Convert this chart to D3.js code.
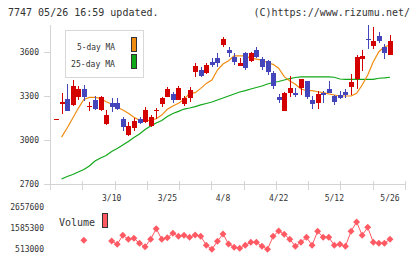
<!DOCTYPE html>
<html>
<head>
<meta charset="utf-8">
<script src="https://cdn.jsdelivr.net/npm/d3@7"></script>
<style>
  body { margin: 0; background: #fff; }
  svg { display: block; font-family: "DejaVu Sans Mono", "Liberation Mono", monospace; }
</style>
</head>
<body>
<svg id="chart"></svg>
<script>
// daily candles, 61 trading days ending 5/26
const opens  = [3143,3245,3280,3239,3293,3348,3232,3273,3205,3109,3252,3252,3143,3034,3082,3143,3123,3095,3205,3245,3293,3314,3273,3245,3286,3464,3477,3457,3532,3559,3648,3614,3566,3505,3593,3539,3614,3552,3539,3459,3291,3200,3322,3320,3350,3402,3273,3254,3320,3348,3300,3307,3327,3364,3414,3554,3689,3643,3709,3632,3582];
const highs  = [3143,3320,3382,3409,3368,3375,3259,3300,3300,3205,3286,3286,3157,3123,3150,3157,3225,3170,3218,3293,3361,3327,3368,3300,3361,3525,3498,3525,3559,3593,3702,3634,3593,3559,3600,3600,3634,3566,3545,3473,3314,3329,3436,3352,3414,3405,3300,3336,3336,3402,3307,3336,3348,3450,3580,3614,3784,3773,3734,3652,3716];
const lows   = [3143,3177,3195,3230,3273,3266,3198,3205,3198,3102,3191,3205,3061,3030,3061,3109,3116,3088,3143,3225,3290,3252,3270,3232,3259,3430,3430,3450,3498,3498,3634,3566,3511,3505,3477,3532,3559,3477,3443,3348,3254,3200,3295,3291,3307,3280,3211,3211,3254,3318,3239,3280,3289,3307,3348,3470,3618,3618,3659,3550,3580];
const closes = [3143,3259,3198,3368,3348,3293,3232,3211,3293,3170,3225,3211,3089,3095,3130,3116,3205,3157,3205,3286,3348,3273,3355,3286,3341,3505,3436,3511,3511,3525,3689,3593,3532,3525,3491,3593,3566,3498,3466,3370,3273,3322,3355,3309,3414,3295,3243,3314,3305,3320,3259,3289,3305,3395,3566,3573,3684,3675,3677,3589,3675];

const ma5  = [null,3020,3082,3148,3216,3277,3291,3291,3284,3261,3245,3223,3205,3182,3155,3136,3130,3136,3145,3170,3209,3232,3250,3277,3318,3323,3352,3386,3409,3477,3518,3541,3573,3573,3573,3557,3552,3545,3527,3516,3489,3432,3402,3380,3348,3336,3336,3329,3323,3314,3307,3300,3300,3300,3318,3375,3443,3534,3602,3636,3648];
const ma25 = [null,2734,2751,2765,2782,2799,2823,2857,2877,2894,2922,2942,2966,2990,3017,3041,3072,3095,3116,3133,3160,3181,3195,3211,3218,3228,3239,3249,3259,3273,3286,3300,3314,3327,3337,3348,3358,3368,3382,3392,3399,3409,3419,3426,3430,3430,3430,3430,3430,3430,3428,3416,3414,3414,3414,3414,3414,3414,3421,3423,3428];

const volumes = [null,null,null,null,null,957000,null,null,null,null,921000,753000,1213000,1008000,1059000,804000,630000,1008000,1550000,1008000,1090000,1315000,1161000,1213000,1110000,1228000,1161000,702000,498000,906000,1279000,768000,600000,549000,702000,855000,855000,651000,498000,1161000,1432000,1264000,1008000,651000,855000,1110000,702000,1417000,1110000,1110000,702000,753000,651000,1417000,1892000,1213000,1621000,855000,804000,804000,1008000];

const dateTickIdx = [10, 20, 30, 40, 50, 60];
const dateTickLabels = ["3/10", "3/25", "4/8", "4/22", "5/12", "5/26"];
const priceTicks = [2700, 3000, 3300, 3600];
const volumeTicks = [513000, 1585300, 2657600];

const W = 420, H = 259;
const red = "#d40000", blue = "#4444bb", orange = "#f08c10", green = "#10a818", pink = "#ff5a64";
const axisColor = "#d4d4d4", textColor = "#333";

const svg = d3.select("#chart").attr("width", W).attr("height", H)
    .attr("shape-rendering", "crispEdges");

const x = d3.scalePoint().domain(d3.range(opens.length)).range([56, 390]);
const y = d3.scaleLinear().domain([2700, 3600]).range([184, 52]);
const yv = d3.scaleLinear().domain([513000, 2657600]).range([249, 207]);
const px = i => Math.round(x(i));

// header texts
svg.append("text").attr("x", 8).attr("y", 16).attr("font-size", 10).attr("fill", textColor)
    .text("7747 05/26 16:59 updated.");
svg.append("text").attr("x", 410).attr("y", 16).attr("font-size", 10).attr("fill", textColor)
    .attr("text-anchor", "end").text("(C)https://www.rizumu.net/");

// axes lines
svg.append("line").attr("x1", 50.5).attr("x2", 50.5).attr("y1", 25).attr("y2", 184)
    .attr("stroke", axisColor);
svg.append("line").attr("x1", 50).attr("x2", 405).attr("y1", 184.5).attr("y2", 184.5)
    .attr("stroke", axisColor);

// x grid ticks, evenly spaced along the axis
const gx = d3.scaleLinear().domain([0, 11]).range([50, 405]);
svg.append("g").selectAll("line").data(d3.range(12)).join("line")
    .attr("x1", d => Math.round(gx(d)) + 0.5).attr("x2", d => Math.round(gx(d)) + 0.5)
    .attr("y1", 181).attr("y2", 190).attr("stroke", axisColor);

// y ticks + labels
const yAxis = svg.append("g");
yAxis.selectAll("line").data(priceTicks).join("line")
    .attr("x1", 44).attr("x2", 50).attr("y1", d => Math.round(y(d)) + 0.5).attr("y2", d => Math.round(y(d)) + 0.5)
    .attr("stroke", axisColor);
yAxis.selectAll("text").data(priceTicks).join("text")
    .attr("x", 39).attr("y", d => y(d) + 3).attr("text-anchor", "end")
    .attr("font-size", 8).attr("fill", textColor).text(d => d);

// date labels
svg.append("g").selectAll("text").data(dateTickIdx).join("text")
    .attr("x", d => x(d)).attr("y", 201).attr("text-anchor", "middle")
    .attr("font-size", 8).attr("fill", textColor).text((d, i) => dateTickLabels[i]);

// moving averages
const maLine = d3.line().defined(d => d != null).x((d, i) => x(i)).y(d => y(d));
svg.append("path").datum(ma25).attr("fill", "none").attr("stroke", green).attr("stroke-width", 1.2)
    .attr("shape-rendering", "auto").attr("d", maLine);
svg.append("path").datum(ma5).attr("fill", "none").attr("stroke", orange).attr("stroke-width", 1.2)
    .attr("shape-rendering", "auto").attr("d", maLine);

// candles
const candles = svg.append("g").selectAll("g").data(d3.range(opens.length)).join("g");
candles.append("line")
    .attr("x1", i => px(i) + 0.5).attr("x2", i => px(i) + 0.5)
    .attr("y1", i => y(highs[i])).attr("y2", i => y(lows[i]))
    .attr("stroke", i => closes[i] >= opens[i] ? red : blue);
candles.append("rect")
    .attr("x", i => px(i) - 2).attr("width", 5)
    .attr("y", i => Math.round(y(Math.max(opens[i], closes[i]))))
    .attr("height", i => Math.max(1, Math.round(Math.abs(y(opens[i]) - y(closes[i])))))
    .attr("fill", i => closes[i] >= opens[i] ? red : blue);

// legend
const lg = svg.append("g");
lg.append("rect").attr("x", 65.5).attr("y", 30.5).attr("width", 78).attr("height", 47)
    .attr("fill", "#fff").attr("stroke", "#d8d8d8").attr("stroke-width", 1.5);
lg.append("text").attr("x", 115).attr("y", 50).attr("text-anchor", "end").attr("font-size", 9.5)
    .attr("textLength", 38).attr("lengthAdjust", "spacingAndGlyphs").attr("fill", textColor).text("5-day MA");
lg.append("text").attr("x", 115).attr("y", 67).attr("text-anchor", "end").attr("font-size", 9.5)
    .attr("textLength", 44).attr("lengthAdjust", "spacingAndGlyphs").attr("fill", textColor).text("25-day MA");
lg.append("rect").attr("x", 131.5).attr("y", 37.5).attr("width", 5).attr("height", 14)
    .attr("fill", orange).attr("stroke", "#333");
lg.append("rect").attr("x", 131.5).attr("y", 54.5).attr("width", 5).attr("height", 14)
    .attr("fill", green).attr("stroke", "#333");

// volume panel
const vAxis = svg.append("g");
vAxis.selectAll("text").data(volumeTicks).join("text")
    .attr("x", 44).attr("y", d => yv(d) + 3).attr("text-anchor", "end")
    .attr("font-size", 8).attr("fill", textColor).text(d => d);
svg.append("text").attr("x", 59).attr("y", 226).attr("font-size", 10)
    .attr("fill", textColor).text("Volume");
svg.append("rect").attr("x", 102.5).attr("y", 213.5).attr("width", 5).attr("height", 14)
    .attr("fill", pink).attr("stroke", "#333");

const volLine = d3.line().defined(d => d != null).x((d, i) => x(i)).y(d => yv(d));
svg.append("path").datum(volumes).attr("fill", "none").attr("stroke", pink).attr("stroke-width", 1)
    .attr("shape-rendering", "auto").attr("d", volLine);
const diamond = d3.symbol().type(d3.symbolSquare).size(24);
svg.append("g").selectAll("path").data(volumes.map((v, i) => [i, v]).filter(d => d[1] != null)).join("path")
    .attr("transform", d => `translate(${x(d[0])},${yv(d[1])}) rotate(45)`)
    .attr("d", diamond).attr("fill", pink).attr("shape-rendering", "auto");
</script>
</body>
</html>
